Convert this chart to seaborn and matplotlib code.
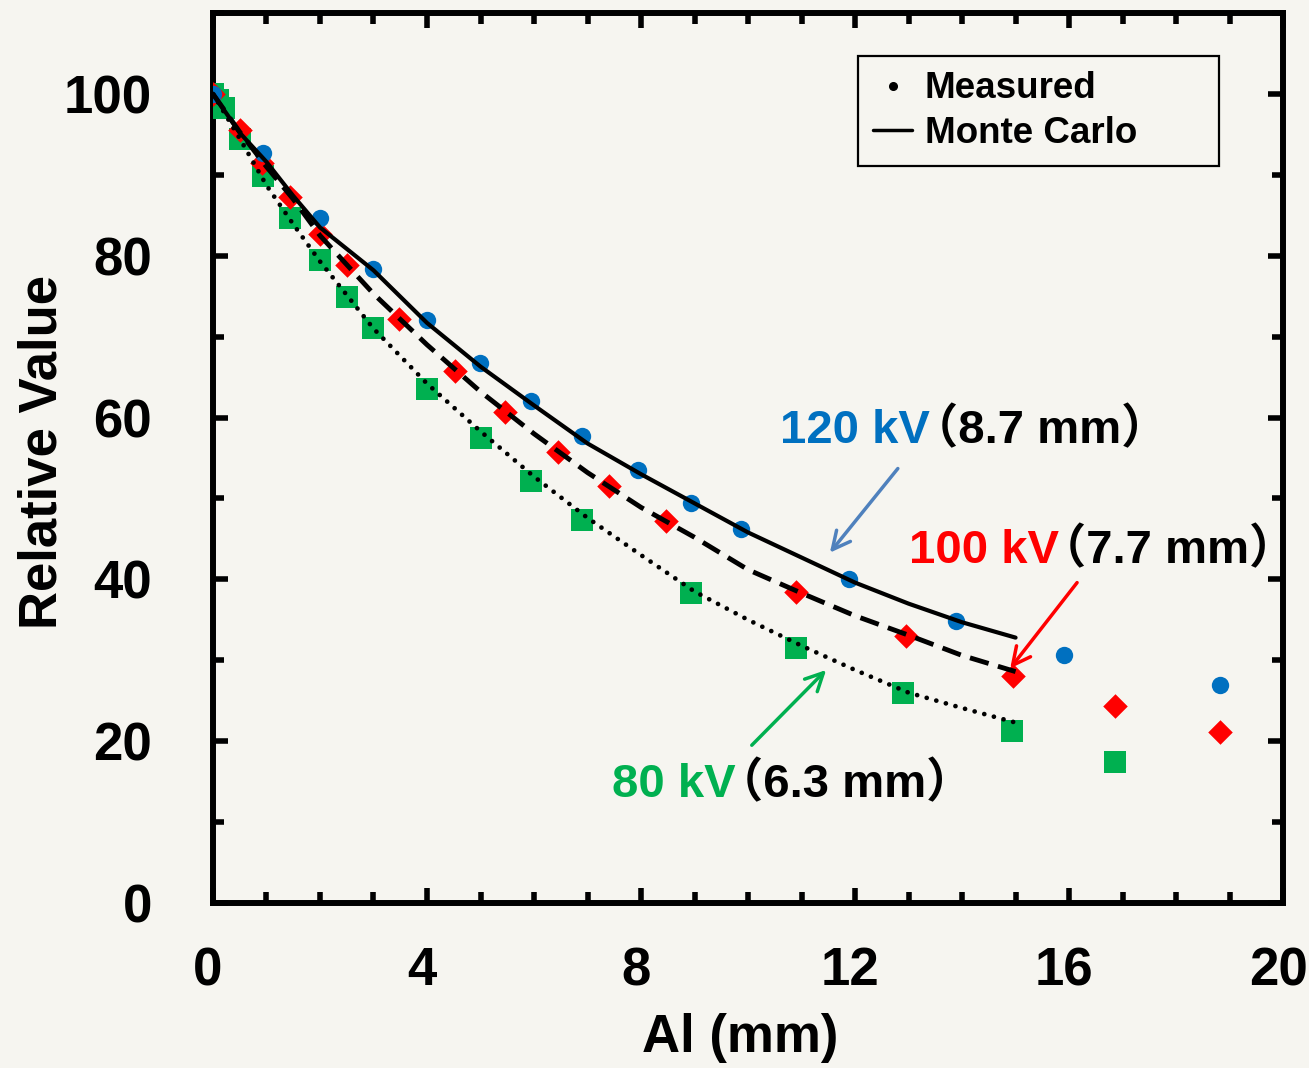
import pandas as pd
import matplotlib.pyplot as plt
import seaborn as sns
from matplotlib.lines import Line2D
from matplotlib.ticker import MultipleLocator
from matplotlib.transforms import ScaledTranslation

# Measured points
al_120 = [0, 0.93, 2.0, 2.99, 4.0, 4.99, 5.94, 6.9, 7.94, 8.93, 9.87, 11.89, 13.89, 15.9, 18.82]
val_120 = [100, 92.7, 84.7, 78.4, 72.0, 66.8, 62.0, 57.7, 53.5, 49.4, 46.2, 40.1, 34.9, 30.6, 26.9]

al_100 = [0, 0.5, 0.92, 1.44, 2.0, 2.5, 3.48, 4.52, 5.46, 6.45, 7.4, 8.47, 10.9, 12.95, 14.95, 16.85, 18.82]
val_100 = [100, 95.5, 91.5, 87.3, 82.7, 78.8, 72.2, 65.8, 60.7, 55.7, 51.5, 47.2, 38.4, 33.0, 28.0, 24.4, 21.1]

al_80 = [0, 0.1, 0.2, 0.5, 0.93, 1.44, 2.0, 2.5, 3.0, 4.0, 5.0, 5.94, 6.9, 8.93, 10.9, 12.9, 14.93, 16.85]
val_80 = [100, 99.2, 98.2, 94.4, 89.8, 84.7, 79.5, 74.9, 71.1, 63.5, 57.5, 52.1, 47.3, 38.3, 31.5, 26.0, 21.2, 17.4]

# Monte Carlo curves
al_mc = [0, 0.5, 1, 1.5, 2, 3, 4, 5, 6, 7, 8, 9, 10, 11, 12, 13, 14, 15]
mc_120 = [100, 95.2, 91.6, 87.4, 83.5, 78.2, 71.7, 66.3, 61.5, 56.8, 53.0, 49.4, 45.8, 42.7, 39.6, 37.0, 34.7, 32.8]
mc_100 = [100, 95.3, 91.0, 87.0, 82.5, 75.3, 69.0, 63.2, 58.0, 53.2, 48.9, 45.2, 41.2, 38.3, 35.5, 33.1, 30.6, 28.6]
mc_80 = [100, 94.5, 88.7, 83.9, 79.3, 71.0, 64.2, 58.3, 52.7, 47.6, 43.0, 38.5, 35.0, 31.8, 28.8, 26.0, 24.1, 22.3]

BLUE = '#0070C0'
RED = '#FF0000'
GREEN = '#00B050'
ARROW_BLUE = '#4F81BD'
BG = '#F6F5F0'

sns.set_style('ticks')
plt.rcParams['font.family'] = ['Liberation Sans', 'Noto Sans CJK JP']
plt.rcParams['font.weight'] = 'bold'
plt.rcParams['text.color'] = 'black'
plt.rcParams['axes.labelcolor'] = 'black'
plt.rcParams['xtick.color'] = 'black'
plt.rcParams['ytick.color'] = 'black'

fig = plt.figure(figsize=(13.09, 10.68), dpi=100, facecolor=BG)
ax = fig.add_axes([0.1627, 0.1545, 0.8175, 0.8333])
ax.set_facecolor(BG)

# measured
sns.scatterplot(x=al_80, y=val_80, marker='s', s=15.5**2, color=GREEN, linewidth=0, ax=ax, zorder=3)
sns.scatterplot(x=al_100, y=val_100, marker='D', s=12.5**2, color=RED, linewidth=0, ax=ax, zorder=3)
sns.scatterplot(x=al_120, y=val_120, marker='o', s=12.5**2, color=BLUE, linewidth=0, ax=ax, zorder=3)

# monte carlo
sns.lineplot(x=al_mc, y=mc_120, color='black', lw=3, ax=ax, zorder=4, errorbar=None)
sns.lineplot(x=al_mc, y=mc_100, color='black', lw=3.5, linestyle=(0, (4, 2)), ax=ax, zorder=4, errorbar=None)
sns.lineplot(x=al_mc, y=mc_80, color='black', lw=3.4, linestyle=(0, (0.01, 2.1)),
             dash_capstyle='round', ax=ax, zorder=4, errorbar=None)

ax.set_xlim(0, 20)
ax.set_ylim(0, 110)
ax.xaxis.set_major_locator(MultipleLocator(4))
ax.xaxis.set_minor_locator(MultipleLocator(1))
ax.yaxis.set_major_locator(MultipleLocator(20))
ax.yaxis.set_minor_locator(MultipleLocator(10))
ax.set_yticks([0, 20, 40, 60, 80, 100])

for sp in ax.spines.values():
    sp.set_linewidth(4.3)
    sp.set_color('black')
ax.tick_params(which='both', direction='in', top=True, right=True, width=4, color='black')
ax.tick_params(which='major', length=11)
ax.tick_params(which='minor', length=8)
ax.tick_params(axis='y', which='major', labelsize=38, pad=44, labelcolor='black')
ax.tick_params(axis='x', which='major', labelsize=38, pad=31, labelcolor='black')
shift = ScaledTranslation(-5 / 100, 0, fig.dpi_scale_trans)
for lab in ax.get_xticklabels():
    lab.set_transform(lab.get_transform() + shift)

ax.set_xlabel('Al (mm)', fontsize=38, fontweight='bold')
ax.set_ylabel('Relative Value', fontsize=38, fontweight='bold')
ax.xaxis.set_label_coords(0.493, -0.1236)
ax.yaxis.set_label_coords(-0.1364, 0.507)

# legend
handles = [Line2D([], [], marker='o', ls='none', color='black', ms=5.5),
           Line2D([], [], color='black', lw=2.5)]
leg = ax.legend(handles, ['Measured', 'Monte Carlo'], loc='upper left',
                bbox_to_anchor=(858 / 1309, 1 - 56 / 1068, 361 / 1309, 0.0),
                bbox_transform=fig.transFigure, mode='expand', borderaxespad=0,
                fontsize=26.5, frameon=True, fancybox=False, framealpha=1,
                edgecolor='black', facecolor=BG, handlelength=1.05,
                handletextpad=0.35, borderpad=0.42, labelspacing=0.25)
leg.get_frame().set_linewidth(1.6)

# annotations
labels = [
    ('120 kV', '（8.7 mm）', BLUE, 10.6, 56.8),
    ('100 kV', '（7.7 mm）', RED, 13.0, 42.0),
    ('80 kV', '（6.3 mm）', GREEN, 7.45, 13.1),
]
for kv, mm, col, tx, ty in labels:
    t = ax.text(tx, ty, kv, color=col, fontsize=34, fontweight='bold', ha='left', va='baseline')
    ax.annotate(mm, xy=(1, ty), xycoords=(t, 'data'), xytext=(-14, 0),
                textcoords='offset points', fontsize=34, fontweight='bold',
                color='black', ha='left', va='baseline')

arrows = [
    (ARROW_BLUE, (12.8, 53.7), (11.53, 43.3)),
    (RED, (16.15, 39.6), (14.9, 29.0)),
    (GREEN, (10.07, 19.5), (11.46, 28.8)),
]
for col, start, end in arrows:
    ax.annotate('', xy=end, xytext=start,
                arrowprops=dict(arrowstyle='->', color=col, lw=2.5, mutation_scale=32,
                                shrinkA=0, shrinkB=0))

fig.savefig('out.png', dpi=100, facecolor=BG)
